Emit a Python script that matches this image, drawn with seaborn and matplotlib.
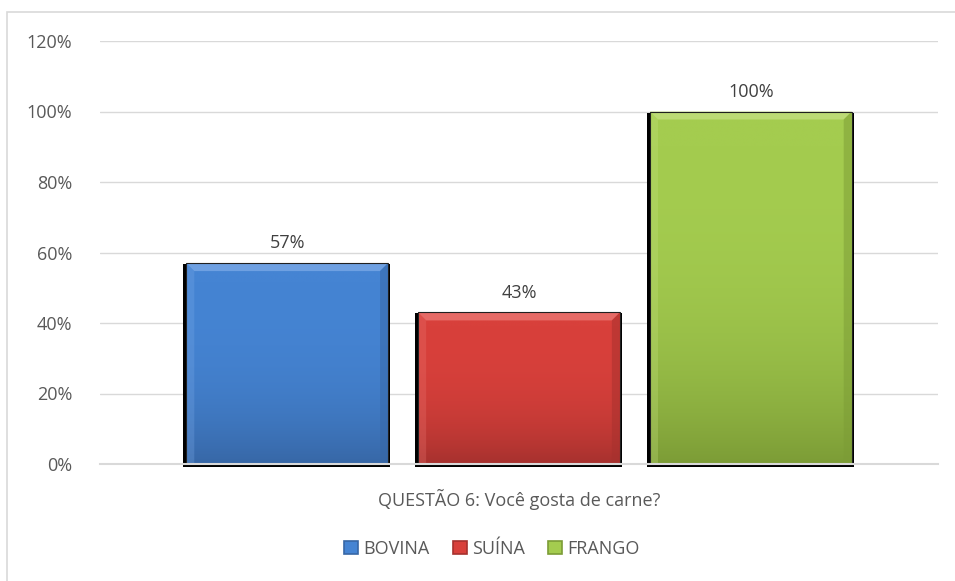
import numpy as np
import pandas as pd
import matplotlib
matplotlib.use("Agg")
import matplotlib.pyplot as plt
import matplotlib.colors as mcolors
from matplotlib.patches import Rectangle, Polygon
import seaborn as sns

# Survey answers
question = ["QUESTÃO 6: Você gosta de carne?"]
series = ["BOVINA", "SUÍNA", "FRANGO"]
values = [0.57, 0.43, 1.00]
yticks = [0, 0.2, 0.4, 0.6, 0.8, 1.0, 1.2]
ytick_labels = ["0%", "20%", "40%", "60%", "80%", "100%", "120%"]

colors = ["#4584d3", "#d8403b", "#a4cc4f"]
dark = ["#3767a6", "#a6312e", "#7c9c36"]
light = ["#79a8e6", "#ea7571", "#c3e07f"]

df = pd.DataFrame({"q": question * 3, "tipo": series, "v": values})

sns.set_theme(style="white")
plt.rcParams["font.family"] = ["Open Sans", "DejaVu Sans"]

W, H = 955, 581
fig = plt.figure(figsize=(W / 100, H / 100), dpi=100)
ax = fig.add_axes([100 / W, 1 - 464 / H, 838 / W, 423 / H])

# outer chart frame
fig.patches.append(Rectangle((7 / W, -0.01), 952 / W, 1 - 12 / H + 0.01, transform=fig.transFigure,
                             fill=False, edgecolor="#d9d9d9", linewidth=1.2, zorder=0))

sns.barplot(data=df, x="q", y="v", hue="tipo", hue_order=series, palette=colors,
            gap=0.13, width=0.83, ax=ax, edgecolor="none", linewidth=0, zorder=3,
            legend=False)

ax.set_xlim(-0.5, 0.5)
ax.set_ylim(0, 1.2)
px_x = 1.0 / 838          # data units per pixel, horizontally
px_y = 1.2 / 423          # data units per pixel, vertically

for patch, c, d, l in zip(list(ax.patches)[:3], colors, dark, light):
    x0, y0 = patch.get_x(), patch.get_y()
    w, h = patch.get_width(), patch.get_height()
    x1, y1 = x0 + w, y0 + h
    # dark drop shadow around the bar
    ax.add_patch(Rectangle((x0 - 3 * px_x, y0 - 3 * px_y), w + 5 * px_x, h + 2 * px_y,
                           facecolor="black", edgecolor="none", zorder=2.8, clip_on=False))
    # smooth vertical shading, darker toward the base
    cmap = mcolors.LinearSegmentedColormap.from_list("g", [d, c], N=1024)
    t = np.linspace(0, 1, 512)
    grad = (1 - (1 - t) ** 3).reshape(-1, 1)
    im = ax.imshow(grad, extent=(x0, x1, y0, y1), origin="lower", vmin=0, vmax=1,
                   cmap=cmap, aspect="auto", zorder=3.5, interpolation="bilinear")
    im.set_clip_path(patch)
    # bevelled edges
    bx, by = 8 * px_x, 8 * px_y
    ax.add_patch(Polygon([(x0, y1), (x1, y1), (x1 - bx, y1 - by), (x0 + bx, y1 - by)],
                         facecolor=l, edgecolor="none", alpha=0.8, zorder=4))
    ax.add_patch(Polygon([(x0, y0), (x0, y1), (x0 + bx, y1 - by), (x0 + bx, y0)],
                         facecolor=l, edgecolor="none", alpha=0.3, zorder=4))
    ax.add_patch(Polygon([(x1, y0), (x1, y1), (x1 - bx, y1 - by), (x1 - bx, y0)],
                         facecolor=d, edgecolor="none", alpha=0.5, zorder=4))
    ax.add_patch(Rectangle((x0, y0), w, h, fill=False, edgecolor="#202020",
                           linewidth=0.8, zorder=4.5))
    ax.text(x0 + w / 2, y1 + 0.03, f"{round(h * 100)}%", ha="center", va="bottom",
            fontsize=13, color="#404040")

ax.set_yticks(yticks)
ax.set_yticklabels(ytick_labels, fontsize=13, color="#595959")
ax.tick_params(axis="y", length=0, pad=20)
ax.tick_params(axis="x", length=0, pad=18, labelsize=13, labelcolor="#595959")
ax.set_xlabel("")
ax.set_ylabel("")
ax.yaxis.grid(True, color="#d9d9d9", linewidth=1)
ax.set_axisbelow(True)
for s in ["top", "right", "left"]:
    ax.spines[s].set_visible(False)
ax.spines["bottom"].set_color("#d9d9d9")
ax.spines["bottom"].set_linewidth(1.5)
ax.spines["bottom"].set_zorder(5)

handles = [Rectangle((0, 0), 1, 1, facecolor=c, edgecolor=d, linewidth=1.2) for c, d in zip(colors, dark)]
fig.legend(handles, series, loc="center", bbox_to_anchor=(492 / W, 1 - 549 / H), ncol=3,
           frameon=False, fontsize=13, handlelength=0.75, handleheight=0.75,
           handletextpad=0.3, columnspacing=1.3, labelcolor="#595959")

fig.savefig("out.png", dpi=100)
